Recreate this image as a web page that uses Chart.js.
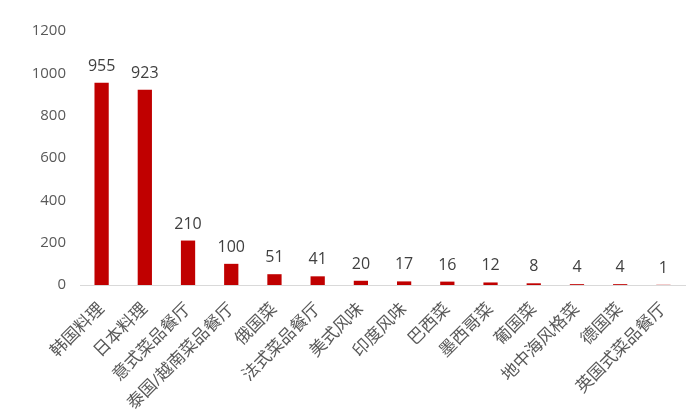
<!DOCTYPE html>
<html lang="zh">
  <head>
    <meta charset="UTF-8" />
    <title>餐厅数量</title>
    <script src="https://cdn.jsdelivr.net/npm/chart.js"></script>
    <style>
      html, body { margin: 0; padding: 0; background: #ffffff; }
      #wrap { width: 700px; height: 420px; }
    </style>
  </head>
  <body>
    <div id="wrap"><canvas id="cuisineChart" width="700" height="420"></canvas></div>

    <script>
      const categories = [
        "韩国料理", "日本料理", "意式菜品餐厅", "泰国/越南菜品餐厅", "俄国菜",
        "法式菜品餐厅", "美式风味", "印度风味", "巴西菜", "墨西哥菜",
        "葡国菜", "地中海风格菜", "德国菜", "英国式菜品餐厅",
      ];
      const counts = [955, 923, 210, 100, 51, 41, 20, 17, 16, 12, 8, 4, 4, 1];
      const yTicks = [0, 200, 400, 600, 800, 1000, 1200];

      const fontFamily = "'Open Sans', 'Noto Sans CJK SC', sans-serif";

      // draw the value above each bar
      const valueLabels = {
        id: "valueLabels",
        afterDatasetsDraw(chart) {
          const ctx = chart.ctx;
          const meta = chart.getDatasetMeta(0);
          ctx.save();
          ctx.fillStyle = "#404040";
          ctx.font = "16px " + fontFamily;
          ctx.textAlign = "center";
          ctx.textBaseline = "alphabetic";
          meta.data.forEach((bar, i) => {
            ctx.fillText(String(counts[i]), bar.x, bar.y - 12);
          });
          ctx.restore();
        },
      };

      const config = {
        type: "bar",
        data: {
          labels: categories,
          datasets: [
            {
              data: counts,
              backgroundColor: "#c00000",
              borderWidth: 0,
              categoryPercentage: 1,
              barPercentage: 0.33,
            },
          ],
        },
        options: {
          responsive: false,
          animation: false,
          layout: { padding: { top: 31, right: 15, left: 0, bottom: 0 } },
          plugins: {
            legend: { display: false },
            tooltip: { enabled: false },
          },
          scales: {
            x: {
              grid: { display: false, drawTicks: false },
              border: { color: "#d9d9d9", width: 1 },
              ticks: {
                color: "#595959",
                font: { family: fontFamily, size: 17 },
                maxRotation: 45,
                minRotation: 45,
                autoSkip: false,
                padding: 14,
              },
              afterFit(scale) { scale.height = 135; },
            },
            y: {
              min: 0,
              max: 1200,
              afterBuildTicks(scale) {
                scale.ticks = yTicks.map((v) => ({ value: v }));
              },
              grid: { display: false, drawTicks: false },
              border: { display: false },
              ticks: {
                color: "#595959",
                font: { family: fontFamily, size: 15 },
                padding: 14,
                callback: (v) => String(v),
              },
              afterFit(scale) { scale.width = 80; },
            },
          },
        },
        plugins: [valueLabels],
      };

      new Chart(document.getElementById("cuisineChart"), config);
    </script>
  </body>
</html>
